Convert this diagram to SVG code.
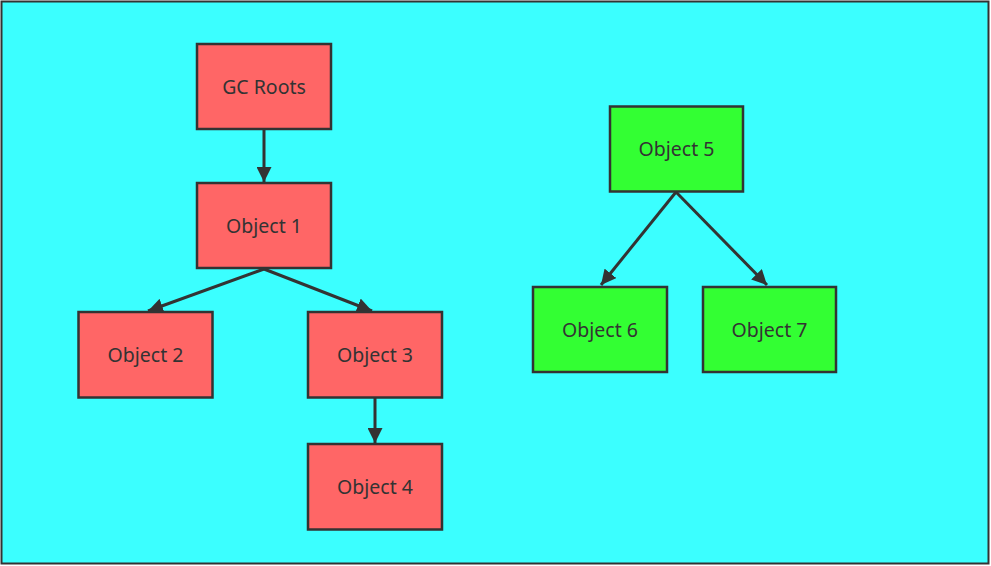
<svg xmlns="http://www.w3.org/2000/svg" width="991" height="566" viewBox="0 0 991 566">
<style>
.bg{fill:#3BFFFF;stroke:#333;stroke-width:2}
.red rect{fill:#FF6666;stroke:#333;stroke-width:2.5}
.green rect{fill:#33FF33;stroke:#333;stroke-width:2.5}
text{font-family:"Noto Sans","Liberation Sans",sans-serif;font-size:19.5px;fill:#333;text-anchor:middle;dominant-baseline:central}
.edge{stroke:#333;stroke-width:3;fill:none;marker-end:url(#arr)}
</style>
<defs>
<marker id="arr" markerUnits="userSpaceOnUse" viewBox="0 0 14 14" refX="14" refY="7" markerWidth="15" markerHeight="15" orient="auto">
<path d="M0,0 L14,7 L0,14 Z" fill="#333"/>
</marker>
</defs>
<rect class="bg" x="1.5" y="1.5" width="987" height="562"/>
<g id="connectors">
<line class="edge" x1="264" y1="130" x2="264" y2="182"/>
<line class="edge" x1="264" y1="269" x2="148" y2="311"/>
<line class="edge" x1="264" y1="269" x2="372" y2="311"/>
<line class="edge" x1="375" y1="398" x2="375" y2="443"/>
<line class="edge" x1="676" y1="192" x2="601" y2="285"/>
<line class="edge" x1="676" y1="192" x2="767" y2="285"/>
</g>
<g id="gcroots" class="red"><rect x="197" y="44" width="134" height="85"/><text x="264" y="86">GC Roots</text></g>
<g id="object1" class="red"><rect x="197" y="183" width="134" height="85"/><text x="264" y="225">Object 1</text></g>
<g id="object2" class="red"><rect x="78.5" y="312" width="134" height="85.5"/><text x="145.5" y="354">Object 2</text></g>
<g id="object3" class="red"><rect x="308" y="312" width="134" height="85.5"/><text x="375" y="354">Object 3</text></g>
<g id="object4" class="red"><rect x="308" y="444" width="134" height="85.5"/><text x="375" y="486.5">Object 4</text></g>
<g id="object5" class="green"><rect x="610" y="106.5" width="133" height="85"/><text x="676.5" y="148.5">Object 5</text></g>
<g id="object6" class="green"><rect x="533" y="287" width="134" height="85"/><text x="600" y="329">Object 6</text></g>
<g id="object7" class="green"><rect x="703" y="287" width="133" height="85"/><text x="769.5" y="329">Object 7</text></g>
</svg>
